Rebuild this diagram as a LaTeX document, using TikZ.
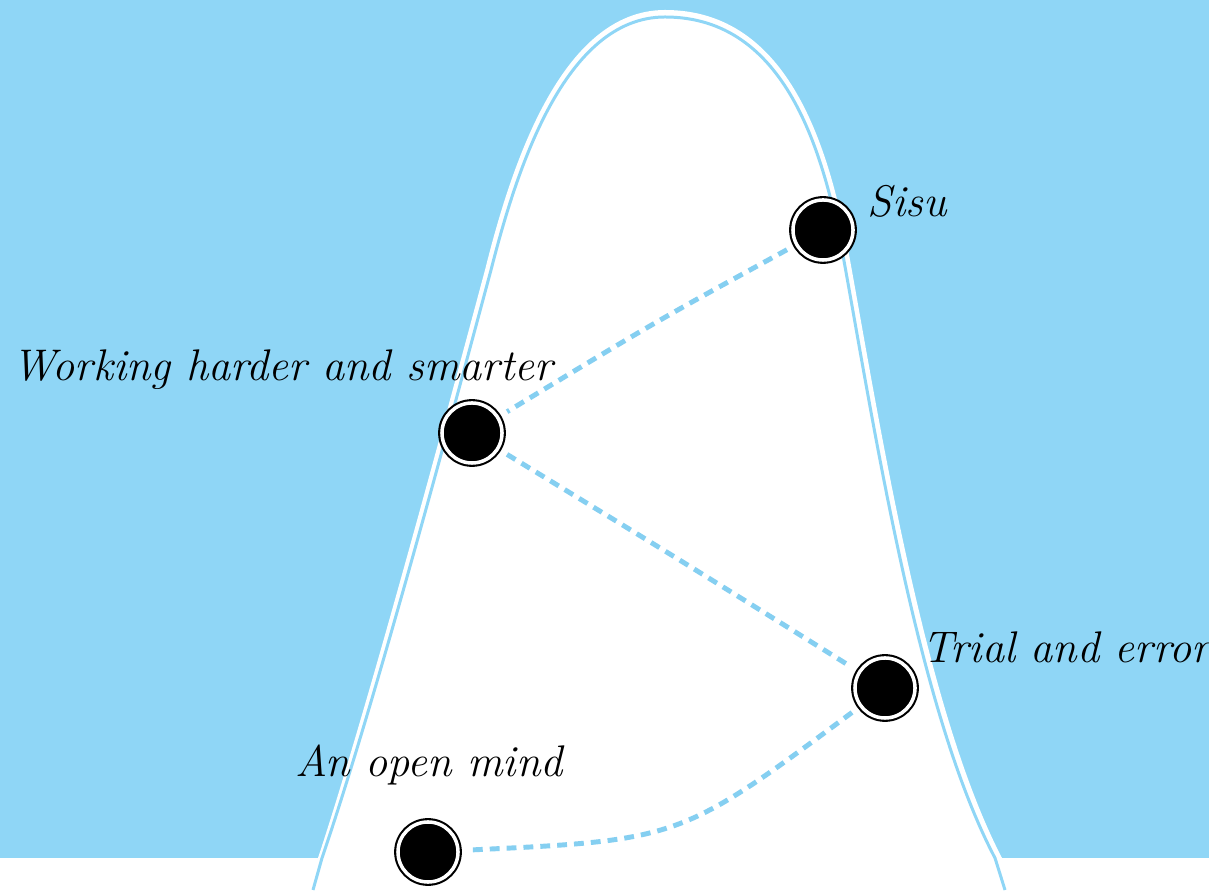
\documentclass[tikz,border=0pt]{standalone}
\usepackage{tikz}
\definecolor{skyblue}{RGB}{143,214,246}
\definecolor{trailblue}{RGB}{133,207,241}

\begin{document}
\begin{tikzpicture}[x=0.01cm, y=-0.01cm,
    stop/.style={circle, fill=black, draw=black, line width=0.6pt, double=white, double distance=1pt, minimum size=0.6cm, inner sep=0pt},
    lbl/.style={anchor=base west, inner sep=0pt, font=\fontsize{12.6}{15}\selectfont\itshape},
    trail/.style={draw=trailblue, line width=1.4pt, dash pattern=on 2.8pt off 2pt, shorten <=0.1cm, shorten >=0.1cm}
  ]
    \useasboundingbox (0,0) rectangle (1209,892);
    % sky and mountain
    \fill[skyblue] (0,0) rectangle (1209,858);
    \fill[white] (318,892) -- (318,858) .. controls (370,700) and (450,400) .. (485,270)
      .. controls (510,170) and (560,10) .. (665,10)
      .. controls (790,10) and (830,150) .. (850,260)
      .. controls (880,425) and (925,710) .. (1002,858) -- (1002,892) -- cycle;
    \draw[skyblue, line width=0.85pt] (313,890) -- (322,858) .. controls (376,700) and (456,400) .. (491,270)
      .. controls (516,172) and (564,17) .. (665,17)
      .. controls (786,17) and (824,152) .. (844,261)
      .. controls (874,426) and (918,712) .. (995,858) -- (1005,890);

    % the stops
    \node[stop] (sisu) at (823,230) {};
    \node[stop] (work) at (472,433) {};
    \node[stop] (trial) at (885,688) {};
    \node[stop] (open) at (428,852) {};

    \node[lbl] (sisulbl) at (867,217) {Sisu};
    \node[lbl] (worklbl) at (12,381) {Working harder and smarter};
    \node[lbl] (triallbl) at (922,663) {Trial and error};
    \node[lbl] (openlbl) at (295,777) {An open mind};

    % the trail
    \draw[trail] (sisu) .. controls (655,322) .. (work);
    \draw[trail] (work) .. controls (680,560) .. (trial);
    \draw[trail] (trial) .. controls (680,840) .. (open);
  \end{tikzpicture}
\end{document}
